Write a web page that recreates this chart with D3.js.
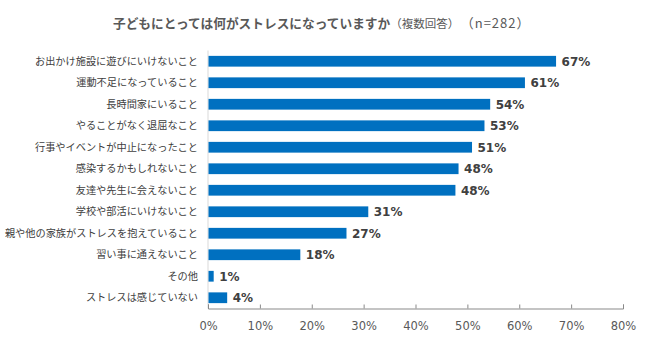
<!DOCTYPE html>
<html>
<head>
<meta charset="utf-8">
<script src="https://cdn.jsdelivr.net/npm/d3@7/dist/d3.min.js"></script>
<style>
  html, body { margin: 0; padding: 0; background: #fff; }
  svg { display: block; }
</style>
</head>
<body>
<svg id="chart" width="650" height="340"></svg>
<script>
const titleMain = "子どもにとっては何がストレスになっていますか";
const titleSub = "（複数回答）";
const titleN = "（n=282）";

const categories = [
  "お出かけ施設に遊びにいけないこと",
  "運動不足になっていること",
  "長時間家にいること",
  "やることがなく退屈なこと",
  "行事やイベントが中止になったこと",
  "感染するかもしれないこと",
  "友達や先生に会えないこと",
  "学校や部活にいけないこと",
  "親や他の家族がストレスを抱えていること",
  "習い事に通えないこと",
  "その他",
  "ストレスは感じていない"
];
const values = [67.0, 61.0, 54.3, 53.2, 50.8, 48.2, 47.6, 30.8, 26.6, 17.7, 1.0, 3.6];
const valueLabels = ["67%", "61%", "54%", "53%", "51%", "48%", "48%", "31%", "27%", "18%", "1%", "4%"];
const tickValues = [0, 10, 20, 30, 40, 50, 60, 70, 80];
const tickLabels = ["0%", "10%", "20%", "30%", "40%", "50%", "60%", "70%", "80%"];

const svg = d3.select("#chart");
const margin = { left: 208, right: 27, top: 50.5, bottom: 31.5 };
const W = 650, H = 340;

const x = d3.scaleLinear().domain([0, 80]).range([margin.left, W - margin.right]);
const y = d3.scaleBand().domain(categories).range([margin.top, H - margin.bottom]).paddingInner(0.5).paddingOuter(0.25);

// Title
const title = svg.append("text")
  .attr("x", 113).attr("y", 28)
  .attr("fill", "#595959")
  .style("font-family", "'Noto Sans CJK JP', sans-serif");
title.append("tspan").text(titleMain).style("font-size", "12.7px").style("font-weight", "bold");
title.append("tspan").text(titleSub).style("font-size", "11.5px");
title.append("tspan").attr("dx", 8).text(titleN).style("font-size", "13px").style("letter-spacing", "1px");

// Left axis line
svg.append("line")
  .attr("x1", x(0)).attr("x2", x(0))
  .attr("y1", margin.top).attr("y2", H - margin.bottom)
  .attr("stroke", "#d9d9d9").attr("stroke-width", 1);

// Bars
svg.append("g").selectAll("rect")
  .data(categories)
  .join("rect")
  .attr("x", x(0) + 0.5)
  .attr("y", d => y(d))
  .attr("width", (d, i) => x(values[i]) - x(0))
  .attr("height", y.bandwidth())
  .attr("fill", "#0070C0");

// Value labels
svg.append("g").selectAll("text")
  .data(categories)
  .join("text")
  .attr("x", (d, i) => x(values[i]) + 6)
  .attr("y", d => y(d) + y.bandwidth() / 2)
  .attr("dy", "0.36em")
  .attr("fill", "#404040")
  .style("font-family", "'DejaVu Sans', Verdana, sans-serif")
  .style("font-size", "12px")
  .style("font-weight", "bold")
  .text((d, i) => valueLabels[i]);

// Category labels
svg.append("g").selectAll("text")
  .data(categories)
  .join("text")
  .attr("x", x(0) - 10)
  .attr("y", d => y(d) + y.bandwidth() / 2)
  .attr("dy", "0.36em")
  .attr("text-anchor", "end")
  .attr("fill", "#404040")
  .style("font-family", "'Noto Sans CJK JP', sans-serif")
  .style("font-size", "10.2px")
  .text(d => d);

// Bottom axis
const xAxis = d3.axisBottom(x)
  .tickValues(tickValues)
  .tickFormat((d, i) => tickLabels[i])
  .tickSizeInner(-4)
  .tickSizeOuter(-4)
  .tickPadding(13);

const gx = svg.append("g")
  .attr("transform", `translate(0,${H - margin.bottom})`)
  .call(xAxis);
gx.select(".domain").attr("stroke", "#898989");
gx.selectAll(".tick line").attr("stroke", "#898989");
gx.selectAll(".tick text")
  .attr("fill", "#595959")
  .style("font-family", "'DejaVu Sans', Verdana, sans-serif")
  .style("font-size", "11.5px");
</script>
</body>
</html>
